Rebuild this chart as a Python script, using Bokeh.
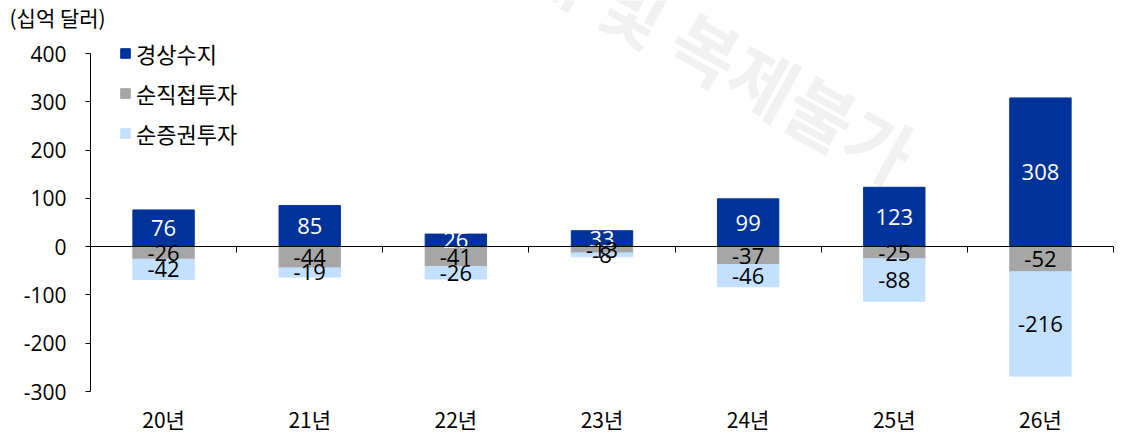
from bokeh.plotting import figure
from bokeh.models import Range1d, LinearAxis, FixedTicker, Legend, LegendItem, Label, ColumnDataSource
from bokeh.core.properties import value
from bokeh.embed import file_html
from bokeh.resources import INLINE

categories = ["20년", "21년", "22년", "23년", "24년", "25년", "26년"]
current_account = [76, 85, 26, 33, 99, 123, 308]
net_fdi = [-26, -44, -41, -13, -37, -25, -52]
net_portfolio = [-42, -19, -26, -8, -46, -88, -216]
series_names = ["경상수지", "순직접투자", "순증권투자"]
y_ticks = [-300, -200, -100, 0, 100, 200, 300, 400]
unit_label = "(십억 달러)"
watermark = "무단전재 및 복제불가"

KFONT = "Noto Sans CJK KR"
NFONT = "Open Sans"
BLUE = "#003399"
GRAY = "#a6a6a6"
LIGHT = "#c4e0ff"

n = len(categories)
y_lo, y_hi = y_ticks[0], y_ticks[-1]
xs = [i + 0.5 for i in range(n)]
port_bottom = [a + b for a, b in zip(net_fdi, net_portfolio)]

src = ColumnDataSource(dict(
    x=xs, ca=current_account, fdi=net_fdi, port_top=net_fdi, port_bottom=port_bottom,
    ca_y=[v / 2 for v in current_account],
    fdi_y=[v / 2 for v in net_fdi],
    port_y=[a + b / 2 for a, b in zip(net_fdi, net_portfolio)],
    ca_t=[str(v) for v in current_account],
    fdi_t=[str(v) for v in net_fdi],
    port_t=[str(v) for v in net_portfolio],
))

# layout: canvas 1122x432, plot area px 90..1113 (x) and 53..391 (y from top)
W_PX, H_PX = 1122, 432
L, R, T, B = 90, 1113, 53, 391
xu = n / (R - L)
yu = (y_hi - y_lo) / (B - T)
x_range = Range1d(-L * xu, n + (W_PX - R) * xu)
y_range = Range1d(y_lo - (H_PX - B) * yu, y_hi + T * yu)


def px_x(px):
    return (px - L) * xu


def px_y(py):
    return y_hi - (py - T) * yu


p = figure(width=W_PX, height=H_PX, x_range=x_range, y_range=y_range,
           output_backend="svg", toolbar_location=None,
           x_axis_location=None, y_axis_location=None,
           min_border_left=0, min_border_right=0, min_border_top=0, min_border_bottom=0)
p.outline_line_color = None
p.grid.visible = False
p.background_fill_color = "white"

# watermark
p.add_layout(Label(x=px_x(909), y=px_y(159), text=watermark,
                   angle=-29, angle_units="deg",
                   text_align="right", text_baseline="middle", text_color="#f1f1f1",
                   text_font=KFONT, text_font_style="bold", text_font_size="72px",
                   level="underlay"))

W = 0.42
r1 = p.vbar(x="x", top="ca", bottom=0, width=W, source=src, fill_color=BLUE, line_color=BLUE)
r2 = p.vbar(x="x", top=0, bottom="fdi", width=W, source=src, fill_color=GRAY, line_color=GRAY)
r3 = p.vbar(x="x", top="port_top", bottom="port_bottom", width=W, source=src, fill_color=LIGHT, line_color=LIGHT)

for ycol, tcol, col in [("ca_y", "ca_t", "white"), ("fdi_y", "fdi_t", "black"), ("port_y", "port_t", "black")]:
    p.text(x="x", y=ycol, text=tcol, source=src, text_align="center", text_baseline="middle",
           text_color=col, text_font=value(NFONT), text_font_size="22px")

# y axis at x = 0
ya = LinearAxis(fixed_location=0, ticker=FixedTicker(ticks=y_ticks), bounds=(y_lo, y_hi),
                major_label_overrides={t: str(t) for t in y_ticks},
                major_label_text_font=NFONT, major_label_text_font_size="21px",
                major_label_text_color="black", major_tick_out=5, major_tick_in=0,
                minor_tick_line_color=None, axis_line_color="black",
                major_tick_line_color="black", major_label_standoff=19)
p.add_layout(ya, "left")

# category labels along the bottom
xa = LinearAxis(fixed_location=y_lo, ticker=FixedTicker(ticks=xs),
                major_label_overrides={x: c for x, c in zip(xs, categories)},
                axis_line_color=None, major_tick_line_color=None, minor_tick_line_color=None,
                major_tick_out=0, major_tick_in=0, major_label_standoff=12,
                major_label_text_font=KFONT, major_label_text_font_size="21px",
                major_label_text_color="black")
p.add_layout(xa, "below")

# zero line with ticks between categories
za = LinearAxis(fixed_location=0, ticker=FixedTicker(ticks=list(range(n + 1))), bounds=(0, n),
                major_tick_out=6, major_tick_in=0, minor_tick_line_color=None,
                axis_line_color="black", major_tick_line_color="black",
                major_label_text_color=None, major_label_text_font_size="0px")
p.add_layout(za, "below")

# unit label
p.add_layout(Label(x=px_x(9), y=px_y(16), text=unit_label,
                   text_align="left", text_baseline="middle",
                   text_font=KFONT, text_font_size="21px", text_color="black"))

legend = Legend(items=[LegendItem(label=series_names[0], renderers=[r1]),
                       LegendItem(label=series_names[1], renderers=[r2]),
                       LegendItem(label=series_names[2], renderers=[r3])],
                location=(119, 283), glyph_width=12, glyph_height=12, label_standoff=5,
                spacing=8, label_height=20, padding=0, margin=0, border_line_color=None,
                background_fill_alpha=0, label_text_font=KFONT, label_text_font_size="22px",
                label_text_color="black")
p.add_layout(legend)

open("out.html", "w").write(file_html(p, INLINE))
